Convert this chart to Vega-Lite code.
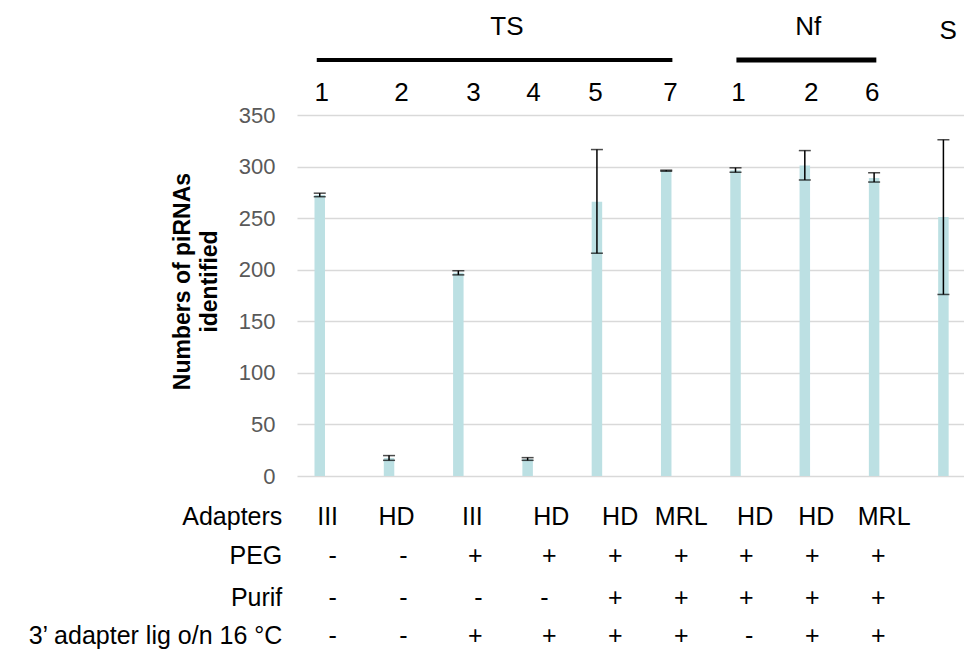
{
  "$schema": "https://vega.github.io/schema/vega-lite/v6.json",
  "width": 667,
  "height": 361,
  "autosize": {"type": "none"},
  "padding": {"left": 297, "top": 115, "right": 0, "bottom": 183},
  "background": "white",
  "config": {
    "view": {"stroke": null},
    "font": "Liberation Sans",
    "text": {"font": "Liberation Sans", "fontSize": 24, "color": "black"}
  },
  "datasets": {
    "bars": [
      {"sample": "TS 1", "pos": 1, "value": 272.5, "lo": 270.8, "hi": 274.2},
      {"sample": "TS 2", "pos": 2, "value": 17.5, "lo": 15.2, "hi": 19.8},
      {"sample": "TS 3", "pos": 3, "value": 197, "lo": 195, "hi": 199},
      {"sample": "TS 4", "pos": 4, "value": 16.5, "lo": 15.2, "hi": 17.8},
      {"sample": "TS 5", "pos": 5, "value": 266, "lo": 216, "hi": 316.5},
      {"sample": "TS 7", "pos": 6, "value": 296, "lo": 295.5, "hi": 296.5},
      {"sample": "Nf 1", "pos": 7, "value": 296.5, "lo": 294.5, "hi": 298.8},
      {"sample": "Nf 2", "pos": 8, "value": 301, "lo": 287, "hi": 315.5},
      {"sample": "Nf 6", "pos": 9, "value": 289, "lo": 285, "hi": 294},
      {"sample": "S", "pos": 10, "value": 251, "lo": 176, "hi": 326}
    ],
    "groups": [
      {"group": "TS", "start": 0.957, "end": 6.089, "level": 403.3}
    ],
    "groups2": [
      {"group": "Nf", "start": 7.013, "end": 9.032, "level": 403.3}
    ],
    "top": [
      {"text": "TS", "pos": 3.701, "level": 435.3},
      {"text": "Nf", "pos": 8.05, "level": 435.3},
      {"text": "S", "pos": 10.069, "level": 431.0},
      {"text": "1", "pos": 1.028, "level": 370.9},
      {"text": "2", "pos": 2.18, "level": 370.9},
      {"text": "3", "pos": 3.217, "level": 370.9},
      {"text": "4", "pos": 4.085, "level": 370.9},
      {"text": "5", "pos": 4.98, "level": 370.9},
      {"text": "7", "pos": 6.06, "level": 370.9},
      {"text": "1", "pos": 7.041, "level": 370.9},
      {"text": "2", "pos": 8.093, "level": 370.9},
      {"text": "6", "pos": 8.974, "level": 370.9}
    ],
    "rowlabels": [
      {"text": "Adapters", "pos": 0.46, "level": -40.2},
      {"text": "PEG", "pos": 0.46, "level": -77.1},
      {"text": "Purif", "pos": 0.46, "level": -117.8},
      {"text": "3’ adapter lig o/n 16 °C", "pos": 0.46, "level": -155.1}
    ],
    "cells": [
      {"row": "Adapters", "text": "III", "pos": 1.114, "level": -40.2},
      {"row": "Adapters", "text": "HD", "pos": 2.109, "level": -40.2},
      {"row": "Adapters", "text": "III", "pos": 3.203, "level": -40.2},
      {"row": "Adapters", "text": "HD", "pos": 4.34, "level": -40.2},
      {"row": "Adapters", "text": "HD", "pos": 5.335, "level": -40.2},
      {"row": "Adapters", "text": "MRL", "pos": 6.217, "level": -40.2},
      {"row": "Adapters", "text": "HD", "pos": 7.283, "level": -40.2},
      {"row": "Adapters", "text": "HD", "pos": 8.164, "level": -40.2},
      {"row": "Adapters", "text": "MRL", "pos": 9.145, "level": -40.2},
      {"row": "PEG", "text": "-", "pos": 1.185, "level": -77.1},
      {"row": "PEG", "text": "-", "pos": 2.208, "level": -77.1},
      {"row": "PEG", "text": "+", "pos": 3.246, "level": -77.1},
      {"row": "PEG", "text": "+", "pos": 4.312, "level": -77.1},
      {"row": "PEG", "text": "+", "pos": 5.265, "level": -77.1},
      {"row": "PEG", "text": "+", "pos": 6.217, "level": -77.1},
      {"row": "PEG", "text": "+", "pos": 7.155, "level": -77.1},
      {"row": "PEG", "text": "+", "pos": 8.107, "level": -77.1},
      {"row": "PEG", "text": "+", "pos": 9.059, "level": -77.1},
      {"row": "Purif", "text": "-", "pos": 1.185, "level": -117.8},
      {"row": "Purif", "text": "-", "pos": 2.208, "level": -117.8},
      {"row": "Purif", "text": "-", "pos": 3.289, "level": -117.8},
      {"row": "Purif", "text": "-", "pos": 4.241, "level": -117.8},
      {"row": "Purif", "text": "+", "pos": 5.265, "level": -117.8},
      {"row": "Purif", "text": "+", "pos": 6.217, "level": -117.8},
      {"row": "Purif", "text": "+", "pos": 7.155, "level": -117.8},
      {"row": "Purif", "text": "+", "pos": 8.107, "level": -117.8},
      {"row": "Purif", "text": "+", "pos": 9.059, "level": -117.8},
      {"row": "3’ adapter lig", "text": "-", "pos": 1.185, "level": -155.1},
      {"row": "3’ adapter lig", "text": "-", "pos": 2.208, "level": -155.1},
      {"row": "3’ adapter lig", "text": "+", "pos": 3.246, "level": -155.1},
      {"row": "3’ adapter lig", "text": "+", "pos": 4.312, "level": -155.1},
      {"row": "3’ adapter lig", "text": "+", "pos": 5.265, "level": -155.1},
      {"row": "3’ adapter lig", "text": "+", "pos": 6.217, "level": -155.1},
      {"row": "3’ adapter lig", "text": "-", "pos": 7.198, "level": -155.1},
      {"row": "3’ adapter lig", "text": "+", "pos": 8.107, "level": -155.1},
      {"row": "3’ adapter lig", "text": "+", "pos": 9.059, "level": -155.1}
    ]
  },
  "layer": [
    {
      "data": {"name": "bars"},
      "mark": {"type": "bar", "width": 10.5, "color": "#bce0e3"},
      "encoding": {
        "x": {"field": "pos", "type": "quantitative", "scale": {"domain": [0.744, 10.225], "nice": false, "zero": false}, "axis": null},
        "y": {
          "field": "value", "type": "quantitative",
          "scale": {"domain": [0, 350], "nice": false},
          "title": ["Numbers of piRNAs", "identified"],
          "axis": {
            "values": [0, 50, 100, 150, 200, 250, 300, 350],
            "ticks": false, "domain": false,
            "grid": true, "gridColor": "#d9d9d9", "gridWidth": 1.5,
            "labelFont": "Liberation Sans", "labelFontSize": 22, "labelColor": "#595959", "labelPadding": 22,
            "titleFont": "Liberation Sans", "titleFontSize": 23, "titleFontWeight": "bold", "titleColor": "black",
            "titlePadding": 17, "titleLineHeight": 27, "titleY": 166
          }
        }
      }
    },
    {
      "data": {"name": "bars"},
      "mark": {"type": "errorbar", "color": "black", "thickness": 1.5, "ticks": {"size": 12, "thickness": 1.5, "color": "black"}},
      "encoding": {
        "x": {"field": "pos", "type": "quantitative"},
        "y": {"field": "lo", "type": "quantitative", "title": ["Numbers of piRNAs", "identified"]},
        "y2": {"field": "hi"}
      }
    },
    {
      "data": {"name": "groups"},
      "mark": {"type": "rule", "color": "black", "strokeWidth": 4.2},
      "encoding": {
        "x": {"field": "start", "type": "quantitative"},
        "x2": {"field": "end"},
        "y": {"field": "level", "type": "quantitative", "title": ["Numbers of piRNAs", "identified"]}
      }
    },
    {
      "data": {"name": "groups2"},
      "mark": {"type": "rule", "color": "black", "strokeWidth": 5},
      "encoding": {
        "x": {"field": "start", "type": "quantitative"},
        "x2": {"field": "end"},
        "y": {"field": "level", "type": "quantitative", "title": ["Numbers of piRNAs", "identified"]}
      }
    },
    {
      "data": {"name": "top"},
      "mark": {"type": "text", "align": "center", "baseline": "middle", "fontSize": 26},
      "encoding": {
        "x": {"field": "pos", "type": "quantitative"},
        "y": {"field": "level", "type": "quantitative", "title": ["Numbers of piRNAs", "identified"]},
        "text": {"field": "text"}
      }
    },
    {
      "data": {"name": "rowlabels"},
      "mark": {"type": "text", "align": "right", "baseline": "middle", "fontSize": 25},
      "encoding": {
        "x": {"field": "pos", "type": "quantitative"},
        "y": {"field": "level", "type": "quantitative", "title": ["Numbers of piRNAs", "identified"]},
        "text": {"field": "text"}
      }
    },
    {
      "data": {"name": "cells"},
      "mark": {"type": "text", "align": "center", "baseline": "middle", "fontSize": 25},
      "encoding": {
        "x": {"field": "pos", "type": "quantitative"},
        "y": {"field": "level", "type": "quantitative", "title": ["Numbers of piRNAs", "identified"]},
        "text": {"field": "text"}
      }
    }
  ]
}
